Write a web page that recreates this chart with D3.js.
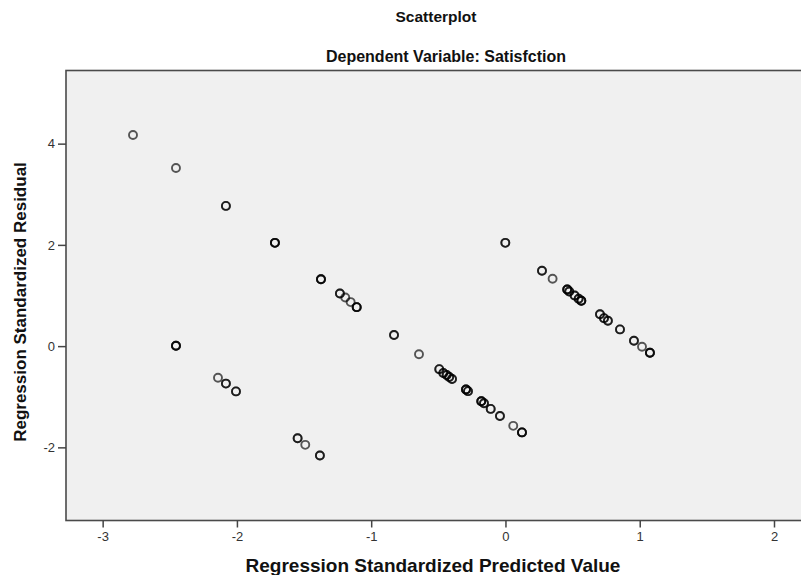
<!DOCTYPE html>
<html>
<head>
<meta charset="utf-8">
<script src="https://cdn.jsdelivr.net/npm/d3@7"></script>
<style>
  html, body { margin: 0; padding: 0; background: #fff; }
  svg { display: block; }
  text { font-family: "Liberation Sans", Arial, sans-serif; }
</style>
</head>
<body>
<div id="chart"></div>
<script>
// ---- data ----
const chartTitle = "Scatterplot";
const chartSubtitle = "Dependent Variable: Satisfction";
const xTitle = "Regression Standardized Predicted Value";
const yTitle = "Regression Standardized Residual";

const predicted = [
  -2.774, -2.454, -2.082, -1.717, -1.374, -1.233, -1.193, -1.153, -1.108, -0.830,
  -0.644, -0.493, -0.463, -0.438, -0.419, -0.398, -0.294, -0.279, -0.180, -0.160,
  -0.110, -0.041, 0.058, 0.123, -0.001, 0.272, 0.351, 0.460, 0.475, 0.515,
  0.545, 0.565, 0.704, 0.734, 0.763, 0.853, 0.957, 1.017, 1.076,
  -2.454, -2.141, -2.082, -2.007, -1.548, -1.491, -1.382
];
const residual = [
  4.17, 3.52, 2.77, 2.04, 1.32, 1.04, 0.96, 0.87, 0.77, 0.22,
  -0.16, -0.455, -0.53, -0.57, -0.61, -0.65, -0.856, -0.89, -1.09, -1.13,
  -1.24, -1.38, -1.575, -1.705, 2.04, 1.49, 1.33, 1.12, 1.08, 1.00,
  0.935, 0.895, 0.63, 0.553, 0.50, 0.33, 0.105, -0.013, -0.13,
  0.006, -0.626, -0.74, -0.895, -1.82, -1.95, -2.16
];
// number of cases overplotted at each position
const cases = [
  1, 1, 2, 3, 3, 2, 1, 1, 3, 2,
  1, 2, 2, 2, 2, 2, 3, 2, 3, 2,
  2, 2, 1, 3, 2, 2, 1, 3, 2, 2,
  2, 3, 2, 2, 2, 2, 2, 1, 3,
  3, 1, 2, 2, 2, 1, 2
];
const xTicks = [-3, -2, -1, 0, 1, 2];
const yTicks = [-2, 0, 2, 4];

// ---- layout ----
const W = 801, H = 575;
const plot = { left: 66, top: 70.5, right: 803, bottom: 520.5 };

const svg = d3.select("#chart").append("svg")
  .attr("width", W).attr("height", H);

const x = d3.scaleLinear().domain([-3.273, 2.216]).range([plot.left, plot.right]);
const y = d3.scaleLinear().domain([-3.445, 5.445]).range([plot.bottom, plot.top]);

// plot background
svg.append("rect")
  .attr("x", plot.left).attr("y", plot.top)
  .attr("width", plot.right - plot.left).attr("height", plot.bottom - plot.top)
  .attr("fill", "#f0f0f0")
  .attr("stroke", "#4a4a4a").attr("stroke-width", 1.6);

// titles
svg.append("text").attr("x", 436).attr("y", 22)
  .attr("text-anchor", "middle").attr("font-size", 15.5).attr("font-weight", "bold")
  .attr("fill", "#111").text(chartTitle);
svg.append("text").attr("x", 446).attr("y", 62)
  .attr("text-anchor", "middle").attr("font-size", 16).attr("font-weight", "bold")
  .attr("fill", "#111").text(chartSubtitle);

const intFmt = d => String(d);

// axes
const xAxis = d3.axisBottom(x).tickValues(xTicks).tickSize(7).tickPadding(4)
  .tickFormat(intFmt);
const gx = svg.append("g").attr("transform", `translate(0,${plot.bottom})`).call(xAxis);
gx.select(".domain").remove();
gx.selectAll(".tick line").attr("stroke", "#444").attr("stroke-width", 1.5);
gx.selectAll(".tick text").attr("font-size", 13).attr("fill", "#333")
  .attr("font-family", "Liberation Sans, Arial, sans-serif");

const yAxis = d3.axisLeft(y).tickValues(yTicks).tickSize(8).tickPadding(3)
  .tickFormat(intFmt);
const gy = svg.append("g").attr("transform", `translate(${plot.left},0)`).call(yAxis);
gy.select(".domain").remove();
gy.selectAll(".tick line").attr("stroke", "#444").attr("stroke-width", 1.5);
gy.selectAll(".tick text").attr("font-size", 13).attr("fill", "#333")
  .attr("font-family", "Liberation Sans, Arial, sans-serif");

// axis titles
svg.append("text").attr("x", 433).attr("y", 572)
  .attr("text-anchor", "middle").attr("font-size", 19).attr("font-weight", "bold")
  .attr("fill", "#111").text(xTitle);
svg.append("text")
  .attr("transform", `translate(26,302) rotate(-90)`)
  .attr("text-anchor", "middle").attr("font-size", 17).attr("font-weight", "bold")
  .attr("fill", "#111").text(yTitle);

// points (one circle per case, translucent so overplotting darkens)
const pts = [];
predicted.forEach((px, i) => {
  for (let k = 0; k < cases[i]; k++) pts.push({ px, py: residual[i] });
});
svg.append("g").selectAll("circle").data(pts).join("circle")
  .attr("cx", d => x(d.px)).attr("cy", d => y(d.py)).attr("r", 4)
  .attr("fill", "none").attr("stroke", "#000").attr("stroke-opacity", 0.65)
  .attr("stroke-width", 1.9);
</script>
</body>
</html>
